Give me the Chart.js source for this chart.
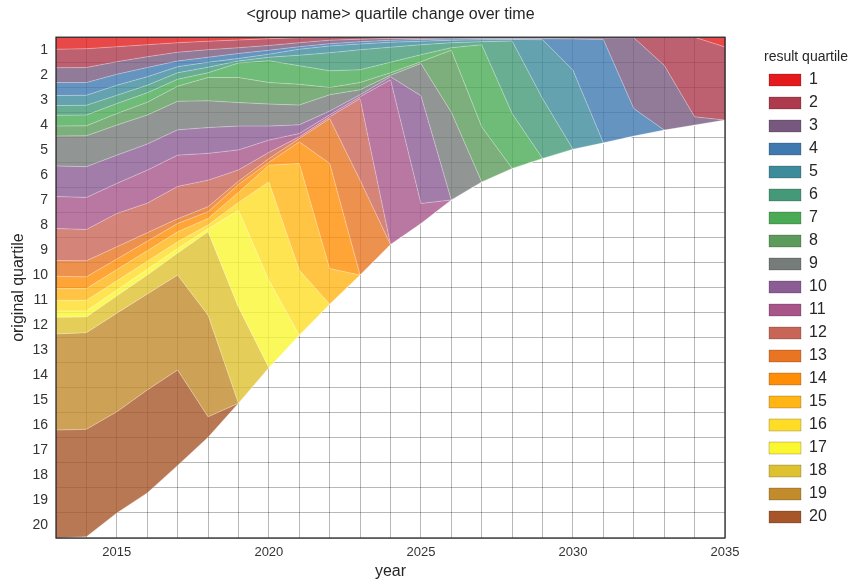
<!DOCTYPE html>
<html>
<head>
<meta charset="utf-8">
<title>quartile change over time</title>
<script src="https://cdn.jsdelivr.net/npm/chart.js@4"></script>
<style>
  html, body { margin: 0; padding: 0; background: #fff; }
  #wrap { width: 853px; height: 586px; position: relative; }
</style>
</head>
<body>
<div id="wrap"><canvas id="chart"></canvas></div>
<script>
const years = [2013, 2014, 2015, 2016, 2017, 2018, 2019, 2020, 2021, 2022, 2023, 2024,
    2025, 2026, 2027, 2028, 2029, 2030, 2031, 2032, 2033, 2034, 2035];
const resultQuartiles = ["1", "2", "3", "4", "5", "6", "7", "8", "9", "10",
    "11", "12", "13", "14", "15", "16", "17", "18", "19", "20"];
const originalQuartileTicks = ["1", "2", "3", "4", "5", "6", "7", "8", "9", "10",
    "11", "12", "13", "14", "15", "16", "17", "18", "19", "20"];
const yearTicks = [2015, 2020, 2025, 2030, 2035];

// lower edge of each result-quartile band, measured down from the top (0) in original-quartile units
const edge1 = [0.48, 0.46, 0.38, 0.30, 0.22, 0.16, 0.11, 0.06, 0.02, 0, 0, 0, 0, 0, 0, 0, 0, 0, 0, 0, 0, 0, 0.39];
const edge2 = [1.22, 1.21, 0.98, 0.78, 0.60, 0.50, 0.42, 0.33, 0.22, 0.12, 0.08, 0.05, 0.04, 0.03, 0.03, 0.03, 0.03, 0.03, 0.03, 0.02, 1.12, 3.18, 3.31];
const edge3 = [1.81, 1.81, 1.48, 1.21, 0.95, 0.80, 0.65, 0.52, 0.38, 0.26, 0.18, 0.12, 0.09, 0.07, 0.06, 0.06, 0.06, 0.07, 0.09, 2.85, 3.71, 3.51, 3.31];
const edge4 = [2.33, 2.32, 1.92, 1.58, 1.18, 1.00, 0.85, 0.68, 0.48, 0.35, 0.27, 0.20, 0.16, 0.12, 0.10, 0.09, 0.10, 1.32, 4.22, 3.95, 3.71, 3.51, 3.31];
const edge5 = [2.73, 2.72, 2.32, 1.92, 1.42, 1.20, 0.95, 0.80, 0.72, 0.62, 0.50, 0.40, 0.30, 0.22, 0.18, 0.15, 2.45, 4.47, 4.22, 3.95, 3.71, 3.51, 3.31];
const edge6 = [3.12, 3.11, 2.65, 2.22, 1.68, 1.42, 1.03, 0.94, 1.14, 1.34, 1.30, 1.00, 0.70, 0.42, 0.30, 3.05, 4.84, 4.47, 4.22, 3.95, 3.71, 3.51, 3.31];
const edge7 = [3.55, 3.54, 3.05, 2.60, 1.96, 1.61, 1.61, 1.81, 1.88, 2.01, 1.81, 1.42, 0.98, 0.52, 3.58, 5.24, 4.84, 4.47, 4.22, 3.95, 3.71, 3.51, 3.31];
const edge8 = [3.95, 3.94, 3.51, 3.11, 2.56, 2.54, 2.61, 2.67, 2.71, 2.30, 2.10, 1.52, 1.05, 3.00, 5.78, 5.24, 4.84, 4.47, 4.22, 3.95, 3.71, 3.51, 3.31];
const edge9 = [5.14, 5.17, 4.71, 4.27, 3.70, 3.61, 3.55, 3.55, 3.50, 2.95, 2.30, 1.58, 2.34, 6.50, 5.78, 5.24, 4.84, 4.47, 4.22, 3.95, 3.71, 3.51, 3.31];
const edge10 = [6.36, 6.40, 5.84, 5.31, 4.71, 4.64, 4.50, 4.11, 3.85, 3.10, 2.38, 1.70, 6.64, 6.50, 5.78, 5.24, 4.84, 4.47, 4.22, 3.95, 3.71, 3.51, 3.31];
const edge11 = [7.64, 7.68, 7.04, 6.63, 5.96, 5.71, 5.30, 4.60, 3.98, 3.18, 2.45, 8.28, 7.44, 6.50, 5.78, 5.24, 4.84, 4.47, 4.22, 3.95, 3.71, 3.51, 3.31];
const edge12 = [8.92, 8.93, 8.37, 7.81, 7.25, 6.77, 5.75, 4.85, 4.05, 3.25, 5.71, 8.28, 7.44, 6.50, 5.78, 5.24, 4.84, 4.47, 4.22, 3.95, 3.71, 3.51, 3.31];
const edge13 = [9.55, 9.57, 8.86, 8.15, 7.44, 6.97, 5.88, 5.00, 4.18, 5.04, 9.50, 8.28, 7.44, 6.50, 5.78, 5.24, 4.84, 4.47, 4.22, 3.95, 3.71, 3.51, 3.31];
const edge14 = [10.04, 10.04, 9.28, 8.53, 7.77, 7.24, 6.20, 5.11, 5.04, 9.24, 9.50, 8.28, 7.44, 6.50, 5.78, 5.24, 4.84, 4.47, 4.22, 3.95, 3.71, 3.51, 3.31];
const edge15 = [10.51, 10.51, 9.73, 8.95, 8.17, 7.50, 6.60, 5.78, 9.30, 10.66, 9.50, 8.28, 7.44, 6.50, 5.78, 5.24, 4.84, 4.47, 4.22, 3.95, 3.71, 3.51, 3.31];
const edge16 = [10.93, 10.93, 10.10, 9.27, 8.44, 7.65, 6.91, 9.70, 11.90, 10.66, 9.50, 8.28, 7.44, 6.50, 5.78, 5.24, 4.84, 4.47, 4.22, 3.95, 3.71, 3.51, 3.31];
const edge17 = [11.18, 11.17, 10.33, 9.50, 8.62, 7.77, 10.78, 13.20, 11.90, 10.66, 9.50, 8.28, 7.44, 6.50, 5.78, 5.24, 4.84, 4.47, 4.22, 3.95, 3.71, 3.51, 3.31];
const edge18 = [11.85, 11.80, 11.02, 10.26, 9.50, 11.10, 14.62, 13.20, 11.90, 10.66, 9.50, 8.28, 7.44, 6.50, 5.78, 5.24, 4.84, 4.47, 4.22, 3.95, 3.71, 3.51, 3.31];
const edge19 = [15.69, 15.66, 14.96, 14.09, 13.29, 15.16, 14.62, 13.20, 11.90, 10.66, 9.50, 8.28, 7.44, 6.50, 5.78, 5.24, 4.84, 4.47, 4.22, 3.95, 3.71, 3.51, 3.31];
const edge20 = [20.00, 19.95, 19.00, 18.20, 17.10, 15.98, 14.62, 13.20, 11.90, 10.66, 9.50, 8.28, 7.44, 6.50, 5.78, 5.24, 4.84, 4.47, 4.22, 3.95, 3.71, 3.51, 3.31];

const edges = [edge1, edge2, edge3, edge4, edge5, edge6, edge7, edge8, edge9, edge10,
    edge11, edge12, edge13, edge14, edge15, edge16, edge17, edge18, edge19, edge20];

const palette = ["#e41a1c", "#ad3a4d", "#77597f", "#4079b0", "#3d8b9b", "#449a78", "#4baa56",
    "#5d9b5d", "#757c79", "#8c5d95", "#a85689", "#c96556", "#e97522", "#ff8d05",
    "#ffb515", "#ffdd26", "#faf632", "#dec12f", "#c28b2c", "#a65628"];

const gridColor = "rgba(0, 0, 0, 0.28)";
const textColor = "#262626";

function withAlpha(hex, alpha) {
    const n = parseInt(hex.slice(1), 16);
    return `rgba(${(n >> 16) & 255}, ${(n >> 8) & 255}, ${n & 255}, ${alpha})`;
}

// box round the plot area
const frame = {
    id: "frame",
    afterDatasetsDraw(chart) {
        const { ctx, chartArea: a } = chart;
        ctx.save();
        ctx.strokeStyle = textColor;
        ctx.lineWidth = 1.25;
        ctx.strokeRect(a.left, a.top, a.right - a.left, a.bottom - a.top);
        ctx.restore();
    },
};

// Chart.js sizes the legend from its items only, so the title got clipped
const legendWidth = {
    id: "legendWidth",
    beforeLayout(chart) {
        const legend = chart.legend;
        if (!legend || legend.fitPatched) return;
        const fit = legend.fit;
        legend.fit = function () {
            fit.call(this);
            this.width = 88;
        };
        legend.fitPatched = true;
    },
};

Chart.defaults.font.family = "'Liberation Sans', Arial, sans-serif";

const datasets = edges.map((edge, i) => ({
    label: resultQuartiles[i],
    data: edge,
    backgroundColor: withAlpha(palette[i], 0.8),
    borderColor: "rgba(255, 255, 255, 0.45)",
    borderWidth: 0.7,
    pointRadius: 0,
    tension: 0,
    fill: i === 0 ? { value: 0 } : "-1",
}));

new Chart(document.getElementById("chart"), {
    type: "line",
    data: { labels: years, datasets: datasets },
    options: {
        responsive: true,
        maintainAspectRatio: false,
        animation: false,
        layout: { padding: { right: 3 } },
        plugins: {
            tooltip: { enabled: false },
            title: {
                display: true,
                fullSize: false,
                text: "<group name> quartile change over time",
                color: textColor,
                font: { size: 16, weight: "normal" },
                padding: { top: 5, bottom: 13 },
            },
            legend: {
                position: "right",
                align: "start",
                title: {
                    display: true,
                    text: "result quartile",
                    color: textColor,
                    font: { size: 14, lineHeight: 1 },
                    padding: { top: 50, bottom: 1 },
                },
                labels: {
                    boxWidth: 32,
                    boxHeight: 12,
                    padding: 7,
                    color: textColor,
                    font: { size: 16 },
                    generateLabels(chart) {
                        const items = Chart.defaults.plugins.legend.labels.generateLabels(chart);
                        items.forEach((item, i) => {
                            item.fillStyle = palette[i];
                            item.strokeStyle = "rgba(0, 0, 0, 0.2)";
                            item.lineWidth = 1;
                        });
                        return items;
                    },
                },
            },
        },
        scales: {
            x: {
                type: "linear",
                min: 2013,
                max: 2035,
                afterFit: (scale) => { scale.height = 48; },
                border: { display: false },
                grid: { color: gridColor, drawTicks: false },
                ticks: {
                    stepSize: 1,
                    autoSkip: false,
                    maxRotation: 0,
                    padding: 7,
                    color: "#333",
                    font: { size: 13 },
                    callback: (v) => (yearTicks.includes(v) ? String(v) : ""),
                },
                title: {
                    display: true,
                    text: "year",
                    color: textColor,
                    font: { size: 16 },
                    padding: { bottom: 5 },
                },
            },
            y: {
                type: "linear",
                reverse: true,
                min: 0,
                max: 20,
                afterFit: (scale) => { scale.width = 56; },
                border: { display: false },
                grid: {
                    color: (c) => (c.tick && c.tick.value % 1 === 0 ? gridColor : "rgba(0, 0, 0, 0)"),
                    drawTicks: false,
                },
                ticks: {
                    stepSize: 0.5,
                    autoSkip: false,
                    padding: 8,
                    color: "#333",
                    font: { size: 14 },
                    callback: (v) => (v % 1 === 0.5 ? originalQuartileTicks[v - 0.5] : ""),
                },
                title: {
                    display: true,
                    text: "original quartile",
                    color: textColor,
                    font: { size: 16 },
                    padding: { top: 9 },
                },
            },
            yRight: {
                position: "right",
                display: true,
                afterFit: (scale) => { scale.width = 37; },
                grid: { display: false },
                border: { display: false },
                ticks: { display: false },
            },
        },
    },
    plugins: [frame, legendWidth],
});
</script>
</body>
</html>
